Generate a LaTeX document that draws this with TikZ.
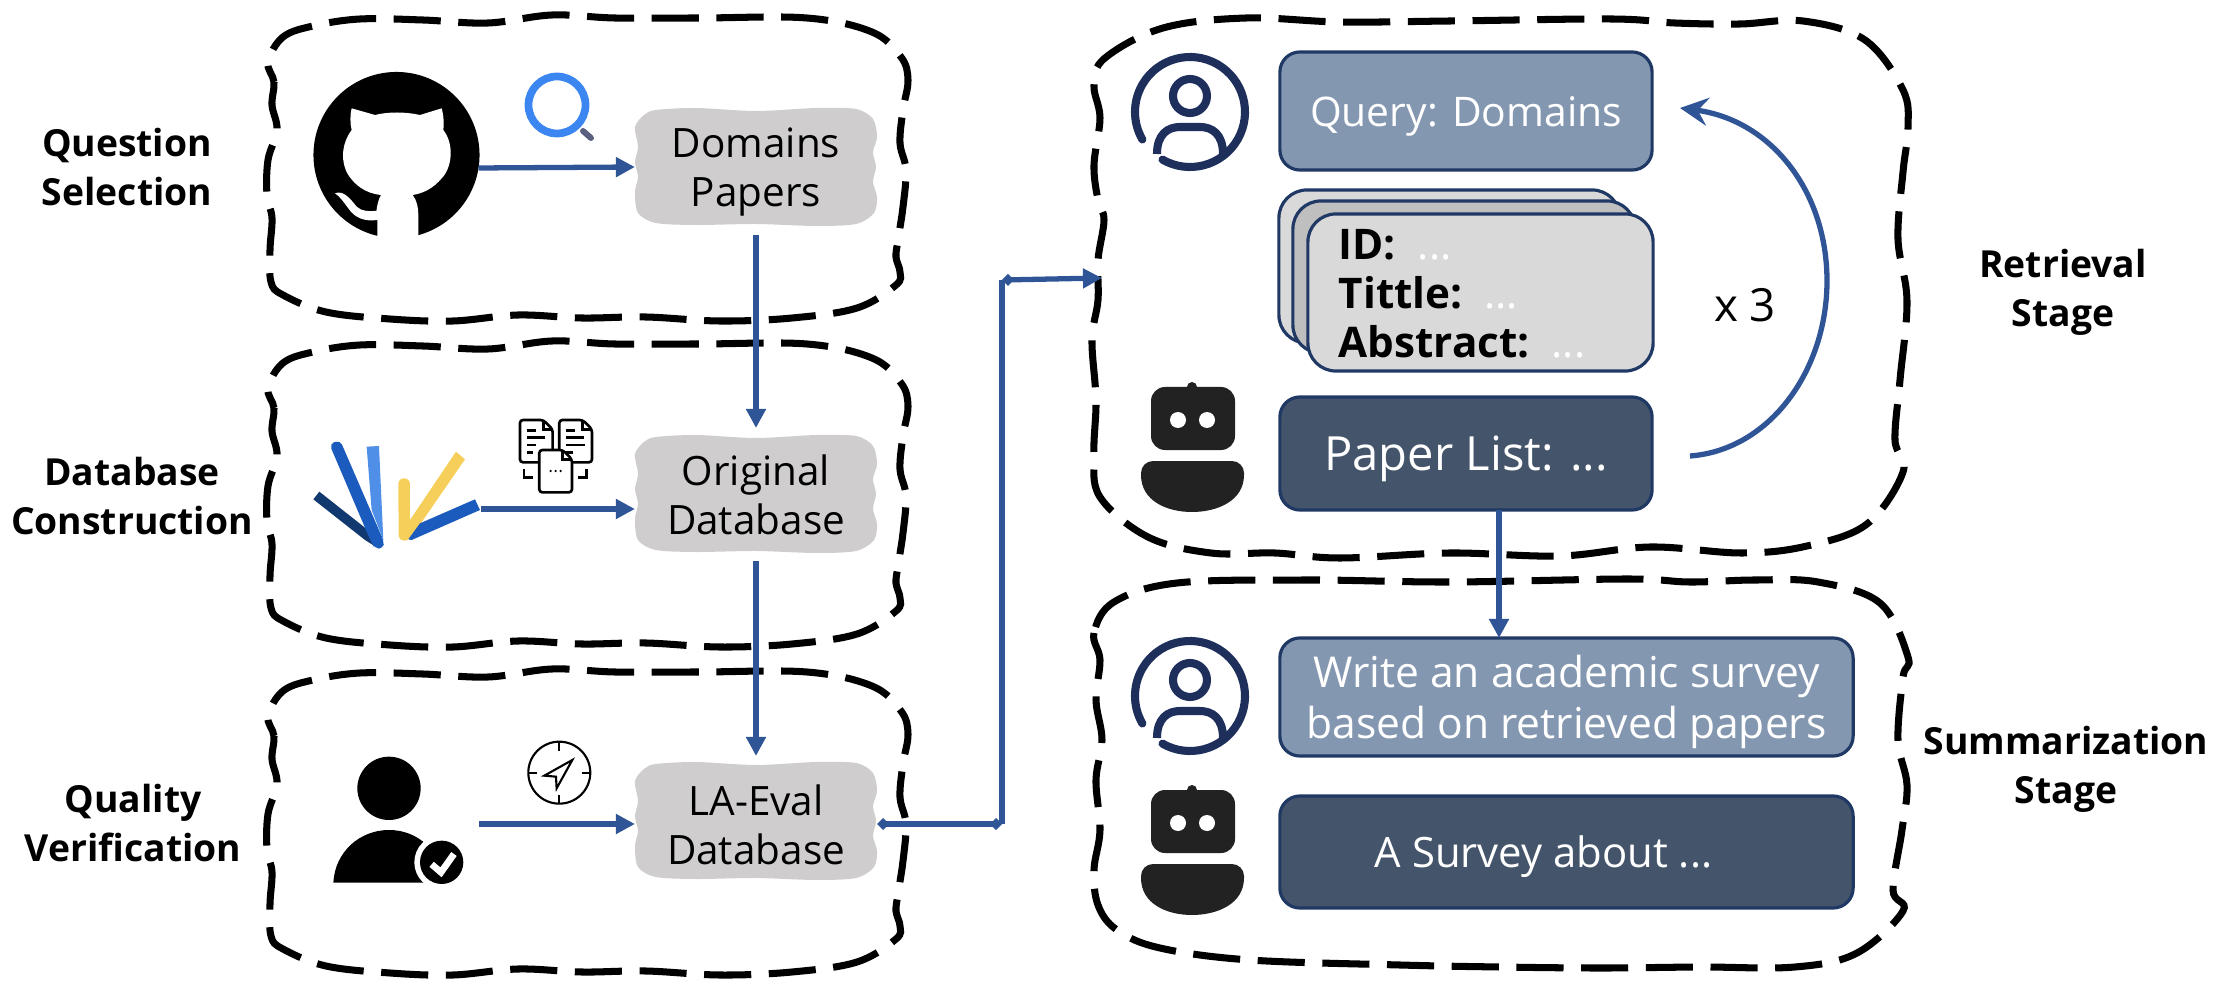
\documentclass[tikz,border=0pt]{standalone}
\usepackage{fontspec}
\setmainfont{Open Sans}
\usetikzlibrary{arrows.meta,calc}
\definecolor{linkblue}{HTML}{2F5597}
\definecolor{cardgray}{HTML}{CFCDCE}
\definecolor{lightbox}{HTML}{8497B0}
\definecolor{darkbox}{HTML}{44546A}
\definecolor{boxline}{HTML}{203864}
\definecolor{usernavy}{HTML}{1F2F5C}
\definecolor{botgray}{HTML}{222222}
\definecolor{barnavy}{HTML}{12396F}
\definecolor{barmid}{HTML}{1B5BBE}
\definecolor{barlight}{HTML}{4F8FE8}
\definecolor{baryellow}{HTML}{F5CF5A}
\definecolor{lensblue}{HTML}{3B86F0}
\definecolor{lensgray}{HTML}{5B6080}
\tikzset{
	blob/.style={line width=2pt,dash pattern=on 13.4pt off 5pt},
	link/.style={draw=linkblue,line width=1.5pt,-{Triangle[length=1.9mm,width=1.9mm]}},
	chatbox/.style={rectangle,rounded corners=0.2cm,draw=boxline,line width=0.9pt,inner sep=0,outer sep=0,minimum height=#1},
	chatlabel/.style={text=white,font=\fontsize{#1}{14.4}\selectfont,align=center,inner sep=0,yshift=-0.05cm},
	stackbox/.style={rectangle,rounded corners=0.28cm,draw=boxline,line width=0.9pt,inner sep=0,outer sep=0},
	cardtext/.style={font=\fontsize{11.5}{13.9}\selectfont,align=center,inner sep=0,outer sep=0,minimum width=2.42cm,minimum height=1.16cm,yshift=-0.05cm},
	stagetext/.style={font=\fontsize{10.6}{13.9}\selectfont\bfseries,align=center},
	pics/usericon/.style={code={
		\draw[usernavy,line width=2.3pt,line cap=round] (120:55) arc (120:-210:55);
		\draw[usernavy,line width=2.3pt] (0,-16) circle (17);
		\draw[usernavy,line width=2.3pt] (-33,42) .. controls (-33,22) and (-22,15) .. (-10,15) -- (10,15) .. controls (22,15) and (33,22) .. (33,42);
	}},
	pics/boticon/.style={code={
		\fill[botgray] (0,-9) circle (5);
		\fill[botgray,rounded corners=0.14cm] (-41,-9) rectangle (43,54);
		\fill[white] (-14,24) circle (8) (15,24) circle (8);
		\fill[botgray] (-51,79) [rounded corners=0.12cm] -- (-51,65) -- (52,65) [sharp corners] -- (52,79) .. controls (52,105) and (25,116) .. (0,116) .. controls (-25,116) and (-51,105) .. (-51,79) -- cycle;
	}},
	pics/docpage/.style={code={
		\draw[black,fill=white,line width=0.75pt,rounded corners=0.03cm] (0,0) -- (70,0) -- (98,28) -- (98,127) -- (0,127) -- cycle;
		\draw[black,line width=0.75pt] (70,0) -- (70,28) -- (98,28);
	}},
}
% wavy frame of the left column, shifted down by #1
\def\leftblob#1{\draw[blob,shift={(0,#1)}] plot[smooth cycle,tension=0.6] coordinates {(268,62) (274,82) (272,105) (277,130) (268,160) (267,195) (272,218) (270,250) (271,282) (283,295) (326,312) (390,319) (453,321) (518,315) (582,318) (646,317) (720,321) (792,318) (857,308) (896,285) (900,272) (896,257) (898,240) (903,207) (906,170) (900,143) (903,110) (908,80) (901,57) (872,32) (807,18) (700,18) (615,18) (552,15) (488,23) (423,20) (360,19) (313,26) (283,37)};}
% torn grey card behind a text
\def\cardshape(#1,#2){\fill[cardgray,shift={(#1,#2)}] plot[smooth cycle,tension=0.5] coordinates {(-100,-57) (-60,-59) (0,-56) (60,-59) (100,-58) (117,-48) (121,-30) (117,-15) (120,0) (117,15) (121,30) (118,46) (100,57) (60,59) (0,57) (-60,58) (-100,56) (-118,46) (-121,25) (-118,10) (-121,-5) (-118,-20) (-121,-40) (-112,-52)};}

\begin{document}
\begin{tikzpicture}[x=0.01cm,y=-0.01cm]
	\useasboundingbox (0,0) rectangle (2217,982);
	
	%%%%% FRAMES %%%%%
	\leftblob{0}
	\leftblob{326}
	\leftblob{654}
	\draw[blob] plot[smooth cycle,tension=0.6] coordinates {(1105,58) (1094,85) (1100,118) (1094,165) (1098,200) (1104,220) (1098,260) (1098,300) (1092,340) (1096,400) (1094,453) (1100,497) (1148,537) (1211,553) (1275,553) (1340,558) (1450,553) (1560,556) (1650,547) (1742,553) (1807,546) (1867,524) (1903,472) (1895,440) (1900,380) (1907,301) (1898,239) (1903,172) (1908,128) (1903,90) (1865,40) (1803,21) (1740,24) (1675,23) (1612,19) (1450,21) (1340,22) (1246,18) (1163,28)};
	\draw[blob] plot[smooth cycle,tension=0.6] coordinates {(1114,602) (1094,633) (1100,660) (1096,700) (1102,740) (1096,780) (1100,830) (1094,870) (1098,905) (1117,930) (1160,948) (1250,960) (1400,965) (1500,967) (1602,968) (1700,967) (1795,967) (1857,953) (1903,911) (1893,890) (1902,830) (1907,785) (1898,740) (1903,677) (1908,657) (1880,603) (1818,582) (1755,580) (1690,582) (1627,579) (1450,582) (1307,580) (1177,583)};
	
	%%%%% LEFT COLUMN %%%%%
	\node[stagetext] (selectlabel) at (127,167) {Question\\Selection};
	\node[stagetext] (buildlabel) at (132,496) {Database\\Construction};
	\node[stagetext] (checklabel) at (133,823) {Quality\\Verification};
	
	\cardshape(756,167)
	\node[cardtext] (domains) at (756,167) {Domains\\Papers};
	\cardshape(756,494)
	\node[cardtext] (original) at (756,490) {Original\\Database};
	\cardshape(756,821)
	\node[cardtext] (laeval) at (756,820) {LA-Eval\\Database};
	
	% github mark
	\node[circle,fill=black,inner sep=0,outer sep=0,minimum size=1.66cm] (github) at (396.5,155) {};
	\begin{scope}[shift={(300,70)},scale=0.3333]
		\fill[white] (155,115) -- (225,135) .. controls (265,125) and (315,125) .. (360,135) -- (425,115) .. controls (432,140) and (432,165) .. (430,180) .. controls (465,225) and (455,295) .. (425,325) .. controls (400,355) and (370,370) .. (338,375) .. controls (350,390) and (355,410) .. (355,440) -- (355,497) -- (362,515) -- (225,515) -- (232,497) -- (232,450) .. controls (225,430) and (232,395) .. (243,375) .. controls (195,370) and (165,345) .. (145,315) .. controls (120,275) and (125,220) .. (155,180) .. controls (150,160) and (150,135) .. (155,115) -- cycle;
		\fill[white] (105,370) .. controls (130,360) and (150,385) .. (170,410) .. controls (185,425) and (210,425) .. (232,422) -- (232,450) .. controls (195,455) and (165,445) .. (145,415) .. controls (130,395) and (120,380) .. (105,370) -- cycle;
	\end{scope}
	
	% magnifier
	\draw[lensblue,line width=2.2pt] (557,105) circle (28.5);
	\draw[lensgray,line width=1.7pt,line cap=round] (583,131) -- (591,138);
	
	% fan of bars
	\coordinate (fanout) at (481,509);
	\begin{scope}[shift={(300,400)},scale=0.3333]
		\fill[barlight] (200,140) -- (237,138) -- (250,420) -- (215,330) -- cycle;
		\fill[barnavy] (40,298) -- (58,275) -- (210,395) -- (222,437) -- (195,420) -- cycle;
		\fill[barmid,rounded corners=0.05cm] (88,132) -- (120,120) -- (252,425) -- (250,447) -- (225,445) -- (215,430) -- cycle;
		\fill[baryellow,rounded corners=0.05cm] (295,235) -- (330,235) -- (330,422) -- (296,422) -- cycle;
		\fill[baryellow] (468,155) -- (495,178) -- (335,410) -- (320,422) -- (330,360) -- cycle;
		\fill[barmid] (525,298) -- (540,330) -- (335,420) -- (325,418) -- (360,370) -- cycle;
	\end{scope}
	
	% documents
	\begin{scope}[shift={(300,400)},scale=0.3333]
		\pic[transform shape] at (660,60) {docpage};
		\pic[transform shape] at (778,60) {docpage};
		\pic[transform shape] at (718,150) {docpage};
		\draw[line width=0.75pt] (680,92) -- (707,92) (680,113) -- (735,113) (680,135) -- (708,135) (680,157) -- (700,157);
		\draw[line width=0.75pt] (798,92) -- (825,92) (798,113) -- (853,113) (798,135) -- (856,135) (798,157) -- (818,157);
		\draw[line width=0.75pt] (672,207) -- (672,233) -- (698,233) (835,233) -- (860,233) -- (860,207);
		\fill (752,213) circle (4) (767,213) circle (4) (782,213) circle (4);
	\end{scope}
	
	% verified person
	\coordinate (personout) at (479,824);
	\begin{scope}[shift={(310,730)},scale=0.3333]
		\fill (237,175) circle (95);
		\fill (70,458) .. controls (75,365) and (150,300) .. (237,300) .. controls (325,300) and (395,365) .. (400,458) -- cycle;
		\fill[white] (395,397) circle (82);
		\fill (395,397) circle (65);
		\draw[white,line width=1.9pt] (365,403) -- (393,427) -- (432,372);
	\end{scope}
	
	% compass
	\begin{scope}[shift={(310,730)},scale=0.3333]
		\draw[line width=0.6pt] (748,128) circle (93);
		\draw[line width=0.6pt] (748,35) -- (748,62) (748,195) -- (748,222) (655,128) -- (682,128) (815,128) -- (842,128);
		\draw[line width=0.6pt] (787,90) -- (703,137) -- (738,140) -- (740,175) -- cycle;
	\end{scope}
	
	\draw[link] (github.-9) -- ([yshift=0.05cm]domains.west);
	\draw[link] (fanout) -- (fanout -| original.west);
	\draw[link] (personout) -- (personout -| laeval.west);
	\draw[link] ([yshift=-0.05cm]domains.south) -- ([yshift=0.09cm]original.north);
	\draw[link] ([yshift=-0.08cm]original.south) -- ([yshift=0.11cm]laeval.north);
	
	\coordinate (elbowlow) at (1002,824);
	\coordinate (elbowhigh) at (1002,280);
	\coordinate (retrievalin) at (1102,278);
	\draw[link,{Diamond[length=1.2mm,width=1.2mm]}-{Diamond[length=1.2mm,width=1.2mm]}] (laeval.east |- elbowlow) -- (elbowlow);
	\draw[link,-] (elbowlow) -- (elbowhigh);
	\draw[link,{Diamond[length=1.2mm,width=1.2mm]}-{Triangle[length=1.9mm,width=1.9mm]}] (elbowhigh) -- (retrievalin);
	
	%%%%% RIGHT COLUMN %%%%%
	\node[stagetext] (retrievallabel) at (2063,292) {Retrieval\\Stage};
	\node[stagetext] (summarylabel) at (2066,769) {Summarization\\Stage};
	
	\pic at (1190,112) {usericon};
	\node[chatbox=1.18cm,fill=lightbox,minimum width=3.72cm,label={[chatlabel=11.6]center:Query: Domains}] (query) at (1466,111) {};
	
	\node[stackbox,fill=black!15,minimum width=3.41cm,minimum height=1.53cm] (stackback) at (1449.5,266.5) {};
	\node[stackbox,fill=black!25,minimum width=3.42cm,minimum height=1.52cm] (stackmid) at (1464,277) {};
	\node[stackbox,fill=black!15,minimum width=3.45cm,minimum height=1.57cm] (stackfront) at (1480.5,292.5) {};
	\node[anchor=north west,inner sep=0,align=left,font=\fontsize{12}{13.9}\selectfont\bfseries] (paperfields) at (1338,229) {ID:\ \ \textcolor{white}{\mdseries ...}\\Tittle:\ \ \textcolor{white}{\mdseries ...}\\Abstract:\ \ \textcolor{white}{\mdseries ...}};
	
	\pic at (1192,396) {boticon};
	\node[chatbox=1.13cm,fill=darkbox,minimum width=3.72cm,label={[chatlabel=13.4]center:Paper List: ...}] (paperlist) at (1466,453.5) {};
	
	\pic at (1190,696) {usericon};
	\node[chatbox=1.18cm,fill=lightbox,minimum width=5.73cm,label={[chatlabel=12.1]center:{Write an academic survey\\based on retrieved papers}}] (surveyask) at (1566.5,697) {};
	
	\pic at (1192,799) {boticon};
	\node[chatbox=1.12cm,fill=darkbox,minimum width=5.73cm,label={[chatlabel=11.9,xshift=-0.23cm]center:A Survey about ...}] (surveyout) at (1566.5,852) {};
	
	\draw[link] ([xshift=0.33cm]paperlist.south) -- ([xshift=0.33cm]paperlist.south |- surveyask.north);
	
	\coordinate (loopout) at (1690,456);
	\coordinate (loopin) at (1680,108);
	\draw[link,-{Stealth[length=2.8mm,width=2.8mm,inset=1mm]}] (loopout) .. controls (1770,450) and (1827,370) .. (1827,281) .. controls (1827,190) and (1770,120) .. (loopin);
	\node[font=\fontsize{13}{14.5}\selectfont] (loopcount) at (1745,305) {x 3};
\end{tikzpicture}
\end{document}
